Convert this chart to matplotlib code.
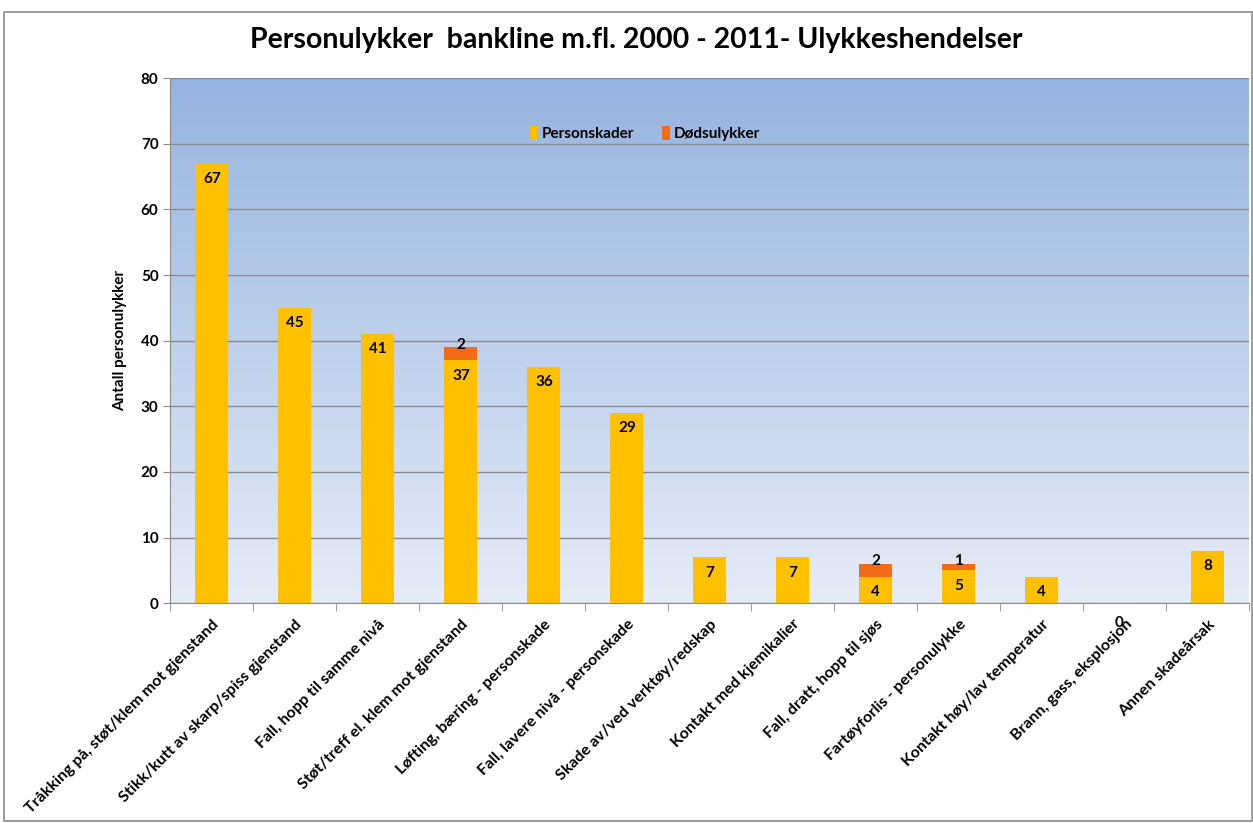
import numpy as np
import matplotlib.pyplot as plt
from matplotlib.patches import Rectangle
from matplotlib.colors import LinearSegmentedColormap

# Data
categories = [
    "Tråkking på, støt/klem mot gjenstand",
    "Stikk/kutt av skarp/spiss gjenstand",
    "Fall, hopp til samme nivå",
    "Støt/treff el. klem mot gjenstand",
    "Løfting, bæring - personskade",
    "Fall, lavere nivå - personskade",
    "Skade av/ved verktøy/redskap",
    "Kontakt med kjemikalier",
    "Fall, dratt, hopp til sjøs",
    "Fartøyforlis - personulykke",
    "Kontakt høy/lav temperatur",
    "Brann, gass, eksplosjon",
    "Annen skadeårsak",
]
personskader = [67, 45, 41, 37, 36, 29, 7, 7, 4, 5, 4, 0, 8]
dodsulykker = [0, 0, 0, 2, 0, 0, 0, 0, 2, 1, 0, 0, 0]

plt.rcParams['font.family'] = ['Lato', 'DejaVu Sans']

fig = plt.figure(figsize=(12.53, 8.23), dpi=100)
ax = fig.add_axes([0.136, 0.267, 0.861, 0.638])

# gradient background
grad = np.linspace(0, 1, 256).reshape(-1, 1)
cmap = LinearSegmentedColormap.from_list("bg", ["#E6ECF7", "#95B3E0"])
ax.imshow(grad, cmap=cmap, aspect='auto', extent=[-0.5, len(categories) - 0.5, 0, 80],
          origin='lower', zorder=0)

x = np.arange(len(categories))
ax.bar(x, personskader, width=0.4, color="#FFC000", label="Personskader", zorder=3)
ax.bar(x, dodsulykker, width=0.4, bottom=personskader, color="#F36B16",
       label="Dødsulykker", zorder=3)

for i, v in enumerate(personskader):
    if v == 0:
        ax.annotate("0", (x[i], 0), xytext=(-4, -14), textcoords='offset points',
                    ha='center', va='center', fontsize=11, fontweight='bold',
                    annotation_clip=False, zorder=5)
    else:
        ax.annotate(str(v), (x[i], v), xytext=(0, -11), textcoords='offset points',
                    ha='center', va='center', fontsize=11, fontweight='bold', zorder=5)
for i, d in enumerate(dodsulykker):
    if d > 0:
        ax.annotate(str(d), (x[i], personskader[i] + d), xytext=(0, 2),
                    textcoords='offset points', ha='center', va='center',
                    fontsize=11, fontweight='bold', zorder=5)

ax.set_xlim(-0.5, len(categories) - 0.5)
ax.set_ylim(0, 80)
ax.set_yticks(range(0, 81, 10))
ax.yaxis.grid(True, color="#8C8C8C", linewidth=1)
for gl in ax.get_ygridlines():
    gl.set_zorder(1)

ax.set_xticks(x)
ax.set_xticklabels(categories, rotation=45, ha='right', rotation_mode='anchor',
                   fontsize=11.5, fontweight='bold')
ax.tick_params(axis='x', length=0, pad=10)
ax.set_xticks(np.arange(-0.5, len(categories), 1), minor=True)
ax.tick_params(axis='x', which='minor', length=6, color="#8C8C8C")
ax.tick_params(axis='y', length=5, color="#8C8C8C", labelsize=11)
for lbl in ax.get_yticklabels():
    lbl.set_fontweight('bold')

for s in ['top', 'right']:
    ax.spines[s].set_visible(False)
ax.spines['left'].set_color("#8C8C8C")
ax.spines['bottom'].set_color("#8C8C8C")

ax.set_ylabel("Antall personulykker", fontsize=11, fontweight='bold', labelpad=10)

ax.legend(loc='upper center', bbox_to_anchor=(0.44, 0.935), ncol=2, frameon=False,
          handlelength=0.5, handleheight=1.0, handletextpad=0.3,
          columnspacing=1.8, prop={'weight': 'bold', 'size': 11})

fig.suptitle("Personulykker  bankline m.fl. 2000 - 2011- Ulykkeshendelser",
             x=0.508, y=0.967, fontsize=20.5, fontweight='bold')

fig.add_artist(Rectangle((0.003, 0.002), 0.996, 0.983, transform=fig.transFigure,
                         fill=False, edgecolor="#8C8C8C", linewidth=1.2))

fig.savefig("out.png", dpi=100)
